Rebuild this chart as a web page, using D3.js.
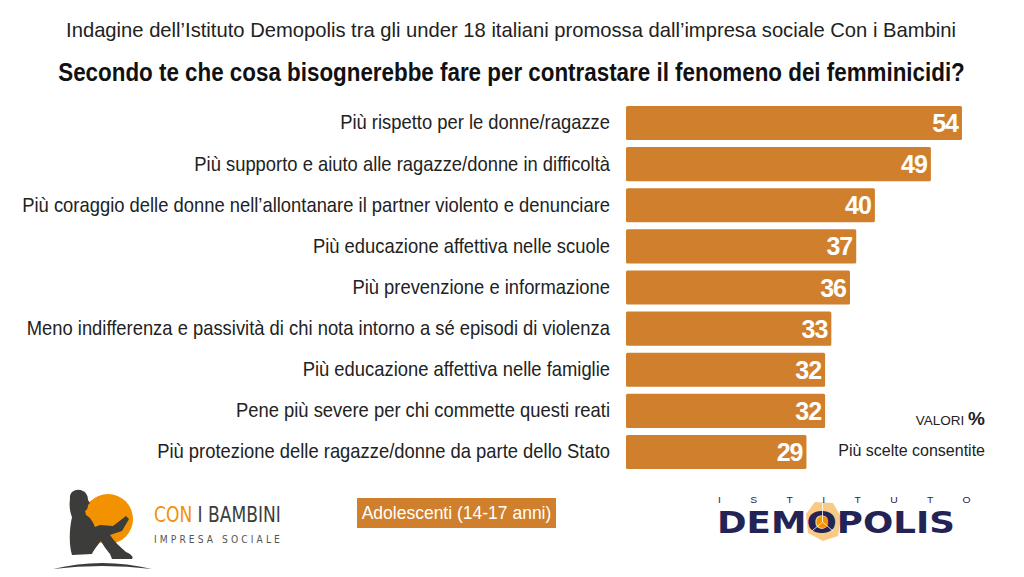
<!DOCTYPE html>
<html>
<head>
<meta charset="utf-8">
<script src="https://cdn.jsdelivr.net/npm/d3@7"></script>
<style>
  body { margin: 0; background: #fff; }
  svg { display: block; }
</style>
</head>
<body>
<div id="chart"></div>
<script>
// data
var answers = [
  "Più rispetto per le donne/ragazze",
  "Più supporto e aiuto alle ragazze/donne in difficoltà",
  "Più coraggio delle donne nell’allontanare il partner violento e denunciare",
  "Più educazione affettiva nelle scuole",
  "Più prevenzione e informazione",
  "Meno indifferenza e passività di chi nota intorno a sé episodi di violenza",
  "Più educazione affettiva nelle famiglie",
  "Pene più severe per chi commette questi reati",
  "Più protezione delle ragazze/donne da parte dello Stato"
];
var percent = [54, 49, 40, 37, 36, 33, 32, 32, 29];

var subtitle = "Indagine dell’Istituto Demopolis tra gli under 18 italiani promossa dall’impresa sociale Con i Bambini";
var title = "Secondo te che cosa bisognerebbe fare per contrastare il fenomeno dei femminicidi?";
var sample = "Adolescenti (14-17 anni)";

var W = 1024, H = 577;
var orange = "#d07f2c";
var sans = "'Liberation Sans', Arial, Helvetica, sans-serif";
var logoFont = "'DejaVu Sans Condensed', 'DejaVu Sans', sans-serif";

var svg = d3.select("#chart").append("svg")
    .attr("width", W)
    .attr("height", H);

// squeeze a text horizontally so it is w px wide, anchored at (ax, ay)
function fitWidth(g, w, ax, ay) {
  var len = g.select("text").node().getComputedTextLength();
  g.attr("transform", "translate(" + ax + "," + ay + ") scale(" + (w / len) + ",1)");
}

// header
svg.append("text")
    .attr("x", 511).attr("y", 37)
    .attr("text-anchor", "middle")
    .style("font-family", sans)
    .style("font-size", "20.2px")
    .style("fill", "#222")
    .text(subtitle);

var tg = svg.append("g");
tg.append("text")
    .attr("text-anchor", "middle")
    .style("font-family", sans)
    .style("font-weight", "bold")
    .style("font-size", "25px")
    .style("fill", "#111")
    .text(title);
fitWidth(tg, 907, 511.5, 81);

// scales
var x = d3.scaleLinear()
    .domain([0, 54])
    .range([626, 962]);

var y = d3.scaleBand()
    .domain(answers)
    .range([102.5, 472.5])
    .paddingInner(0.17)
    .paddingOuter(0.085);

// bars
svg.selectAll("rect.bar")
    .data(percent)
    .enter()
    .append("rect")
    .attr("class", "bar")
    .attr("x", x(0))
    .attr("y", function(d, i) { return y(answers[i]); })
    .attr("width", function(d) { return x(d) - x(0); })
    .attr("height", y.bandwidth())
    .attr("rx", 1.5)
    .attr("fill", orange);

// values inside the bars
svg.selectAll("text.val")
    .data(percent)
    .enter()
    .append("text")
    .attr("class", "val")
    .attr("x", function(d) { return x(d) - 4; })
    .attr("y", function(d, i) { return y(answers[i]) + y.bandwidth() / 2 + 9; })
    .attr("text-anchor", "end")
    .style("font-family", sans)
    .style("font-weight", "bold")
    .style("font-size", "25px")
    .style("letter-spacing", "-1px")
    .style("fill", "#fff")
    .text(function(d) { return d; });

// category labels (narrowed a little, like the original condensed face)
svg.append("g")
    .attr("transform", "translate(610,0) scale(0.92,1)")
    .call(d3.axisLeft(y).tickSize(0).tickPadding(0))
    .call(function(g) { g.select(".domain").remove(); })
    .selectAll("text")
    .style("font-family", sans)
    .style("font-size", "20px")
    .style("fill", "#222");

// note on the right
var note = svg.append("text")
    .attr("x", 985).attr("y", 425)
    .attr("text-anchor", "end")
    .style("font-family", sans)
    .style("fill", "#222");
note.append("tspan").style("font-size", "13.5px").text("VALORI ");
note.append("tspan").style("font-size", "19px").style("font-weight", "bold").text("%");

svg.append("text")
    .attr("x", 985).attr("y", 456)
    .attr("text-anchor", "end")
    .style("font-family", sans)
    .style("font-size", "16px")
    .style("fill", "#222")
    .text("Più scelte consentite");

// sample box
svg.append("rect")
    .attr("x", 357).attr("y", 498)
    .attr("width", 199).attr("height", 30)
    .attr("fill", orange);
svg.append("text")
    .attr("x", 456.5).attr("y", 519)
    .attr("text-anchor", "middle")
    .style("font-family", sans)
    .style("font-size", "17.5px")
    .style("fill", "#fff")
    .text(sample);

// Con i Bambini logo
var lg = svg.append("g");
lg.append("circle").attr("cx", 108).attr("cy", 519).attr("r", 25).attr("fill", "#f39200");
lg.append("path")
    .attr("d", "M53,569 Q102,557 152,569 Q102,563 53,569 Z")
    .attr("fill", "#3c3c3b");
// child reading, seated with knees up
lg.append("path")
    .attr("d", "M70,499 C69,491 77,488 83,491 C87,493 88,497 88,500 L90,503 L88,505 " +
               "C88,508 87,510 85,511 L86,515 C90,517 93,522 95,527 L100,525 L113,526 " +
               "L126,516 L129,519 L122,531 L110,535 C114,541 120,547 126,552 " +
               "C131,554 134,557 132,559 L112,559 L110,554 C106,549 103,545 101,541 " +
               "C97,546 93,551 92,554 L72,555 C69,545 69,530 72,517 C70,512 69,506 70,499 Z")
    .attr("fill", "#3c3c3b");
var cg = lg.append("g");
var cib = cg.append("text")
    .style("font-family", logoFont)
    .style("font-size", "21px");
cib.append("tspan").attr("fill", "#f39200").text("CON ");
cib.append("tspan").attr("fill", "#3c3c3b").text("I BAMBINI");
fitWidth(cg, 127, 154, 522);
var ig = lg.append("g");
ig.append("text")
    .style("font-family", logoFont)
    .style("font-size", "10.5px")
    .style("letter-spacing", "3.2px")
    .style("fill", "#555")
    .text("IMPRESA SOCIALE");
fitWidth(ig, 129, 154, 543);

// Demopolis logo
var dg = svg.append("g");
dg.append("path")
    .attr("d", "M815,502 L833,503 L841,517 L838,536 L823,541 L808,533 L806,514 Z")
    .attr("fill", "#f7b75e").attr("opacity", 0.75);
dg.append("circle").attr("cx", 822.5).attr("cy", 522).attr("r", 6).attr("fill", "#f39200");
var sg = dg.append("g");
sg.append("text")
    .style("font-family", sans)
    .style("font-size", "9.5px")
    .style("letter-spacing", "27px")
    .style("fill", "#232356")
    .text("ISTITUTO");
fitWidth(sg, 282, 718, 503);
var mg = dg.append("g");
mg.append("text")
    .style("font-family", "'DejaVu Sans', 'Liberation Sans', sans-serif")
    .style("font-weight", "bold")
    .style("font-size", "31px")
    .style("fill", "#232356")
    .text("DEMOPOLIS");
fitWidth(mg, 238, 717, 533);
dg.append("path")
    .attr("d", "M822.5,503 L822.5,522 M822.5,522 L812,531 M822.5,522 L833,531")
    .attr("stroke", "#fff")
    .attr("stroke-width", 1)
    .attr("opacity", 0.8)
    .attr("fill", "none");
</script>
</body>
</html>
